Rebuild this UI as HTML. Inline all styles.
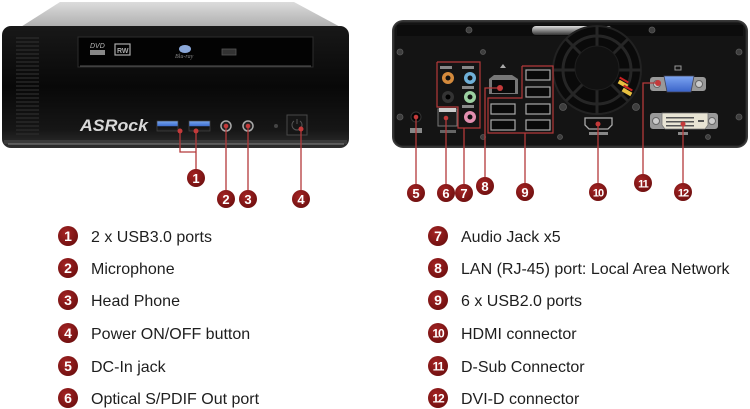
<!DOCTYPE html>
<html><head><meta charset="utf-8"><style>
html,body{margin:0;padding:0;background:#fff;}
svg{display:block;}
.lg{font-family:"Liberation Sans",sans-serif;font-size:16px;fill:#1e1e1e;}
.bn{font-family:"Liberation Sans",sans-serif;font-weight:bold;fill:#fff;text-anchor:middle;}
</style></head><body>
<svg width="750" height="409" viewBox="0 0 750 409" xmlns="http://www.w3.org/2000/svg">
<defs>
<linearGradient id="top" x1="0" y1="0" x2="0" y2="1"><stop offset="0" stop-color="#dcdcdc"/><stop offset="1" stop-color="#a8a8a8"/></linearGradient>
<linearGradient id="face" x1="0" y1="0" x2="0" y2="1"><stop offset="0" stop-color="#181818"/><stop offset="0.5" stop-color="#080808"/><stop offset="0.85" stop-color="#161616"/><stop offset="1" stop-color="#2e2e2e"/></linearGradient>
<linearGradient id="usb3" x1="0" y1="0" x2="0" y2="1"><stop offset="0" stop-color="#7aa8f0"/><stop offset="0.5" stop-color="#3f6fd0"/><stop offset="0.55" stop-color="#111"/><stop offset="1" stop-color="#222"/></linearGradient>
<linearGradient id="handle" x1="0" y1="0" x2="0" y2="1"><stop offset="0" stop-color="#ddd"/><stop offset="0.5" stop-color="#888"/><stop offset="1" stop-color="#333"/></linearGradient>
<linearGradient id="vga" x1="0" y1="0" x2="0" y2="1"><stop offset="0" stop-color="#7ea6f2"/><stop offset="1" stop-color="#3a63c8"/></linearGradient>
<radialGradient id="badge" cx="0.4" cy="0.35" r="0.7"><stop offset="0" stop-color="#a52424"/><stop offset="1" stop-color="#6e0f0f"/></radialGradient>
</defs>
<rect width="750" height="409" fill="#fff"/>

<!-- FRONT UNIT -->
<polygon points="16,30 60,2 294,2 346,30" fill="url(#top)"/>
<rect x="2" y="26" width="347" height="122" rx="9" fill="url(#face)"/>
<rect x="4" y="140" width="343" height="4" fill="#3a3a3a"/>
<rect x="8" y="143" width="336" height="2" fill="#777" opacity="0.6"/>
<!-- vents -->
<g stroke="#2c2c2c" stroke-width="1.2">
<line x1="16" y1="38" x2="39" y2="38"/><line x1="16" y1="42" x2="39" y2="42"/><line x1="16" y1="46" x2="39" y2="46"/><line x1="16" y1="50" x2="39" y2="50"/><line x1="16" y1="54" x2="39" y2="54"/><line x1="16" y1="58" x2="39" y2="58"/><line x1="16" y1="62" x2="39" y2="62"/><line x1="16" y1="66" x2="39" y2="66"/><line x1="16" y1="70" x2="39" y2="70"/><line x1="16" y1="74" x2="39" y2="74"/><line x1="16" y1="78" x2="39" y2="78"/><line x1="16" y1="82" x2="39" y2="82"/><line x1="16" y1="86" x2="39" y2="86"/><line x1="16" y1="90" x2="39" y2="90"/><line x1="16" y1="94" x2="39" y2="94"/><line x1="16" y1="98" x2="39" y2="98"/><line x1="16" y1="102" x2="39" y2="102"/><line x1="16" y1="106" x2="39" y2="106"/><line x1="16" y1="110" x2="39" y2="110"/><line x1="16" y1="114" x2="39" y2="114"/><line x1="16" y1="118" x2="39" y2="118"/><line x1="16" y1="122" x2="39" y2="122"/><line x1="16" y1="126" x2="39" y2="126"/><line x1="16" y1="130" x2="39" y2="130"/><line x1="16" y1="134" x2="39" y2="134"/>
</g>
<!-- optical drive -->
<rect x="78" y="37" width="235" height="30" fill="#030303" stroke="#2c2c2c" stroke-width="1"/>
<line x1="80" y1="66" x2="311" y2="66" stroke="#555" stroke-width="1"/>
<text x="90" y="48" font-family="Liberation Sans,sans-serif" font-size="7" fill="#bbb" font-style="italic">DVD</text>
<rect x="90" y="50" width="15" height="5" fill="#888"/>
<rect x="115" y="44" width="15" height="11" fill="none" stroke="#aaa" stroke-width="1.2"/>
<text x="117" y="53" font-family="Liberation Sans,sans-serif" font-size="7" fill="#aaa" font-weight="bold">RW</text>
<ellipse cx="185" cy="49" rx="6" ry="4" fill="#8aa7d9"/>
<text x="175" y="58" font-family="Liberation Serif,serif" font-size="6" fill="#888" font-style="italic">Blu-ray</text>
<rect x="222" y="49" width="14" height="6" fill="#333" stroke="#555" stroke-width="0.8"/>
<!-- ASRock logo -->
<text x="80" y="131" font-family="Liberation Sans,sans-serif" font-size="17" font-weight="bold" font-style="italic" fill="#d8d8d8" textLength="68" lengthAdjust="spacingAndGlyphs">ASRock</text>
<!-- USB3 -->
<rect x="157" y="121" width="21" height="10" fill="url(#usb3)" stroke="#444" stroke-width="0.7"/>
<rect x="189" y="121" width="21" height="10" fill="url(#usb3)" stroke="#444" stroke-width="0.7"/>
<!-- jacks -->
<circle cx="226" cy="126" r="5" fill="#222" stroke="#aaa" stroke-width="1.5"/>
<circle cx="226" cy="126" r="2" fill="#000"/>
<circle cx="248" cy="126" r="5" fill="#222" stroke="#aaa" stroke-width="1.5"/>
<circle cx="248" cy="126" r="2" fill="#000"/>
<circle cx="276" cy="126" r="2" fill="#444"/>
<rect x="287" y="115" width="20" height="20" fill="#161616" stroke="#484848" stroke-width="1"/>
<path d="M294 121 a5 5 0 1 0 6 0" fill="none" stroke="#555" stroke-width="1"/>
<line x1="297" y1="119" x2="297" y2="124" stroke="#555" stroke-width="1"/>

<!-- front connectors -->
<g stroke="#b3393a" stroke-width="1.3" fill="none">
<polyline points="180,131 180,152 196,152"/>
<line x1="196" y1="131" x2="196" y2="170"/>
<line x1="226" y1="126" x2="226" y2="190"/>
<line x1="248" y1="126" x2="248" y2="190"/>
<line x1="301" y1="129" x2="301" y2="190"/>
</g>
<g fill="#c43a3a">
<circle cx="180" cy="131" r="2.5"/><circle cx="196" cy="131" r="2.5"/><circle cx="226" cy="126" r="2.3"/><circle cx="248" cy="126" r="2.3"/><circle cx="301" cy="129" r="2.5"/>
</g>

<!-- REAR UNIT -->
<rect x="392" y="20" width="356" height="128" rx="11" fill="#3a3a3a"/>
<rect x="394" y="22" width="352" height="124" rx="9" fill="#141414" stroke="#2a2a2a" stroke-width="1"/>
<rect x="397" y="25" width="346" height="11" fill="#0c0c0c"/>
<rect x="532" y="26" width="80" height="9" rx="4" fill="url(#handle)"/>
<!-- screws -->
<g fill="#3e3e3e" stroke="#5a5a5a" stroke-width="0.8">
<circle cx="400" cy="52" r="3"/><circle cx="400" cy="117" r="3"/><circle cx="483" cy="52" r="2.5"/><circle cx="483" cy="137" r="2.5"/><circle cx="469" cy="30" r="3"/><circle cx="560" cy="137" r="2.5"/><circle cx="652" cy="30" r="3"/><circle cx="739" cy="52" r="3"/><circle cx="739" cy="117" r="3"/><circle cx="708" cy="137" r="2.5"/><circle cx="563" cy="107" r="3.5"/><circle cx="636" cy="107" r="3.5"/>
</g>
<!-- fan -->
<circle cx="597" cy="70" r="44" fill="#0a0a0a" stroke="#222" stroke-width="2"/>
<g stroke="#262626" stroke-width="3" fill="none">
<circle cx="597" cy="70" r="34"/>
<line x1="597" y1="26" x2="597" y2="114"/><line x1="553" y1="70" x2="641" y2="70"/>
<line x1="566" y1="39" x2="628" y2="101"/><line x1="628" y1="39" x2="566" y2="101"/>
</g>
<circle cx="597" cy="68" r="22" fill="#111" stroke="#1e1e1e" stroke-width="1"/>
<rect x="618" y="82" width="10" height="4" fill="#e8c040" transform="rotate(30 623 84)"/>
<rect x="622" y="90" width="10" height="4" fill="#e8c040" transform="rotate(30 627 92)"/>
<rect x="619" y="79" width="10" height="2" fill="#c22" transform="rotate(30 624 80)"/>
<rect x="623" y="87" width="10" height="2" fill="#c22" transform="rotate(30 628 88)"/>
<!-- DC jack -->
<circle cx="416" cy="117" r="5" fill="#050505" stroke="#333" stroke-width="1"/>
<rect x="410" y="128" width="12" height="5" fill="#888"/>
<!-- optical -->
<rect x="438" y="109" width="19" height="17" fill="#1c1c1c" stroke="#777" stroke-width="1"/>
<rect x="439" y="108" width="17" height="4" fill="#ccc"/>
<rect x="440" y="130" width="16" height="3" fill="#666"/>
<!-- audio jacks -->
<circle cx="448" cy="78" r="6" fill="#d48a3c"/><circle cx="448" cy="78" r="2.5" fill="#111"/>
<circle cx="470" cy="78" r="6" fill="#6fb0d8"/><circle cx="470" cy="78" r="2.5" fill="#111"/>
<circle cx="448" cy="97" r="6" fill="#333"/><circle cx="448" cy="97" r="2.5" fill="#000"/>
<circle cx="470" cy="97" r="6" fill="#9bd0a0"/><circle cx="470" cy="97" r="2.5" fill="#111"/>
<circle cx="470" cy="117" r="6" fill="#e28fb0"/><circle cx="470" cy="117" r="2.5" fill="#111"/>
<g fill="#888"><rect x="440" y="66" width="12" height="3"/><rect x="462" y="66" width="12" height="3"/><rect x="462" y="86" width="12" height="3"/><rect x="462" y="105" width="12" height="3"/></g>
<polyline points="437,62 480,62 480,128 458,128 458,107 437,107 437,62" fill="none" stroke="#b3393a" stroke-width="1.2"/>
<!-- LAN -->
<polygon points="489,79 494,75 512,75 518,79 518,94 489,94" fill="#777"/>
<rect x="492" y="80" width="23" height="13" fill="#0a0a0a"/>
<path d="M500 68 l3 -4 l3 4 z" fill="#aaa"/>
<!-- USB2 -->
<g fill="#0a0a0a" stroke="#aaa" stroke-width="1.2">
<rect x="526" y="70" width="24" height="10"/><rect x="526" y="87" width="24" height="10"/><rect x="526" y="104" width="24" height="10"/><rect x="526" y="120" width="24" height="10"/>
<rect x="491" y="104" width="24" height="10"/><rect x="491" y="120" width="24" height="10"/>
</g>
<polyline points="522,66 553,66 553,133 488,133 488,98 522,98 522,66" fill="none" stroke="#b3393a" stroke-width="1.2"/>
<!-- HDMI -->
<path d="M585 118 h27 v7 l-4 4 h-19 l-4 -4 z" fill="#111" stroke="#aaa" stroke-width="1.3"/>
<rect x="589" y="132" width="19" height="3" fill="#888"/>
<!-- VGA -->
<rect x="650" y="77" width="56" height="14" rx="3" fill="#999"/>
<circle cx="657" cy="84" r="3.5" fill="#ccc" stroke="#666"/>
<circle cx="699" cy="84" r="3.5" fill="#ccc" stroke="#666"/>
<path d="M664 76 h30 l-3 16 h-24 z" fill="url(#vga)" stroke="#445" stroke-width="0.8"/>
<rect x="675" y="66" width="6" height="4" fill="none" stroke="#999" stroke-width="1"/>
<!-- DVI -->
<rect x="650" y="113" width="68" height="16" rx="3" fill="#9a9a9a"/>
<circle cx="656" cy="121" r="3.5" fill="#ccc" stroke="#666"/>
<circle cx="712" cy="121" r="3.5" fill="#ccc" stroke="#666"/>
<path d="M662 113 h46 v12 l-3 4 h-40 l-3 -4 z" fill="#e8e4d4" stroke="#777" stroke-width="0.8"/>
<g fill="#555"><rect x="666" y="117" width="28" height="1.5"/><rect x="666" y="121" width="28" height="1.5"/><rect x="666" y="125" width="28" height="1.5"/><rect x="698" y="120" width="6" height="2"/></g>
<rect x="678" y="132" width="10" height="3" fill="#888"/>

<!-- rear connectors -->
<g stroke="#b3393a" stroke-width="1.3" fill="none">
<line x1="416" y1="117" x2="416" y2="184"/>
<line x1="446" y1="118" x2="446" y2="184"/>
<line x1="464" y1="128" x2="464" y2="184"/>
<polyline points="500,88 485,88 485,177"/>
<line x1="525" y1="133" x2="525" y2="183"/>
<line x1="598" y1="124" x2="598" y2="183"/>
<polyline points="658,83 643,83 643,174"/>
<line x1="683" y1="124" x2="683" y2="183"/>
</g>
<g fill="#c43a3a">
<circle cx="416" cy="117" r="2.3"/><circle cx="446" cy="118" r="2.3"/><circle cx="500" cy="88" r="3"/><circle cx="598" cy="124" r="2.5"/><circle cx="658" cy="83" r="3"/><circle cx="683" cy="124" r="2.5"/>
</g>

<!-- diagram badges -->
<g>
<circle cx="196" cy="178" r="9" fill="url(#badge)"/><text class="bn" x="196" y="183" font-size="13">1</text>
<circle cx="226" cy="199" r="9" fill="url(#badge)"/><text class="bn" x="226" y="204" font-size="13">2</text>
<circle cx="248" cy="199" r="9" fill="url(#badge)"/><text class="bn" x="248" y="204" font-size="13">3</text>
<circle cx="301" cy="199" r="9" fill="url(#badge)"/><text class="bn" x="301" y="204" font-size="13">4</text>
<circle cx="416" cy="193" r="9" fill="url(#badge)"/><text class="bn" x="416" y="198" font-size="13">5</text>
<circle cx="446" cy="193" r="9" fill="url(#badge)"/><text class="bn" x="446" y="198" font-size="13">6</text>
<circle cx="464" cy="193" r="9" fill="url(#badge)"/><text class="bn" x="464" y="198" font-size="13">7</text>
<circle cx="485" cy="186" r="9" fill="url(#badge)"/><text class="bn" x="485" y="191" font-size="13">8</text>
<circle cx="525" cy="192" r="9" fill="url(#badge)"/><text class="bn" x="525" y="197" font-size="13">9</text>
<circle cx="598" cy="192" r="9" fill="url(#badge)"/><text class="bn" x="598" y="196.5" font-size="11" letter-spacing="-1">10</text>
<circle cx="643" cy="183" r="9" fill="url(#badge)"/><text class="bn" x="643" y="187.5" font-size="11" letter-spacing="-1">11</text>
<circle cx="683" cy="192" r="9" fill="url(#badge)"/><text class="bn" x="683" y="196.5" font-size="11" letter-spacing="-1">12</text>
</g>

<!-- legend left -->
<g>
<circle cx="68" cy="236" r="10" fill="url(#badge)"/><text class="bn" x="68" y="241" font-size="14">1</text>
<circle cx="68" cy="268" r="10" fill="url(#badge)"/><text class="bn" x="68" y="273" font-size="14">2</text>
<circle cx="68" cy="300" r="10" fill="url(#badge)"/><text class="bn" x="68" y="305" font-size="14">3</text>
<circle cx="68" cy="333" r="10" fill="url(#badge)"/><text class="bn" x="68" y="338" font-size="14">4</text>
<circle cx="68" cy="366" r="10" fill="url(#badge)"/><text class="bn" x="68" y="371" font-size="14">5</text>
<circle cx="68" cy="398" r="10" fill="url(#badge)"/><text class="bn" x="68" y="403" font-size="14">6</text>
</g>
<text class="lg" x="91" y="242">2 x USB3.0 ports</text>
<text class="lg" x="91" y="274">Microphone</text>
<text class="lg" x="91" y="306">Head Phone</text>
<text class="lg" x="91" y="339">Power ON/OFF button</text>
<text class="lg" x="91" y="372">DC-In jack</text>
<text class="lg" x="91" y="404">Optical S/PDIF Out port</text>

<!-- legend right -->
<g>
<circle cx="438" cy="236" r="10" fill="url(#badge)"/><text class="bn" x="438" y="241" font-size="14">7</text>
<circle cx="438" cy="268" r="10" fill="url(#badge)"/><text class="bn" x="438" y="273" font-size="14">8</text>
<circle cx="438" cy="300" r="10" fill="url(#badge)"/><text class="bn" x="438" y="305" font-size="14">9</text>
<circle cx="438" cy="333" r="10" fill="url(#badge)"/><text class="bn" x="438" y="337.5" font-size="12" letter-spacing="-1">10</text>
<circle cx="438" cy="366" r="10" fill="url(#badge)"/><text class="bn" x="438" y="370.5" font-size="12" letter-spacing="-1">11</text>
<circle cx="438" cy="398" r="10" fill="url(#badge)"/><text class="bn" x="438" y="402.5" font-size="12" letter-spacing="-1">12</text>
</g>
<text class="lg" x="461" y="242">Audio Jack x5</text>
<text class="lg" x="461" y="274">LAN (RJ-45) port: Local Area Network</text>
<text class="lg" x="461" y="306">6 x USB2.0 ports</text>
<text class="lg" x="461" y="339">HDMI connector</text>
<text class="lg" x="461" y="372">D-Sub Connector</text>
<text class="lg" x="461" y="404">DVI-D connector</text>
</svg>
</body></html>
